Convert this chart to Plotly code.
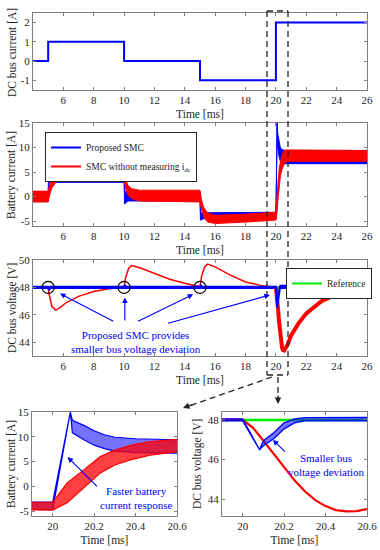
import plotly.graph_objects as go

# ---------------- data ----------------
# DC bus current step profile [A]
idc_t = [4, 5, 10, 15, 20, 26]
idc_a = [0, 1, 0, -1, 2, 2]

# Battery current, proposed SMC: ripple band envelopes [A]
bat_blue_t = [4.0, 5.0, 5.03, 5.25, 10.0, 10.03, 10.25, 15.0, 15.03, 15.25, 20.0,
              20.085, 20.095, 20.15, 20.2, 20.25, 20.3, 20.4, 20.6, 26.0]
bat_blue_hi = [1.0, 1.0, 6.0, 5.4, 5.3, 1.0, 1.0, 1.0, -3.3, -3.3, -3.2,
               15.0, 13.3, 12.3, 11.2, 10.4, 9.9, 9.6, 9.4, 9.4]
bat_blue_lo = [-1.0, -1.0, 2.9, 2.9, 2.9, -1.5, -0.9, -0.9, -4.8, -4.5, -4.7,
               15.0, 10.8, 9.4, 8.3, 7.6, 7.1, 6.8, 6.7, 6.7]

# Battery current, SMC without measuring idc: ripple band envelopes [A]
bat_red_t = [4.0, 5.0, 5.1, 5.25, 5.5, 6.0, 8.0, 10.0, 10.1, 10.25, 10.5, 11.0, 15.0,
             15.1, 15.25, 15.5, 16.0, 18.0, 20.0, 20.07, 20.15, 20.23, 20.3, 20.39,
             20.47, 20.55, 20.6, 21.0, 26.0]
bat_red_hi = [1.1, 1.1, 2.5, 3.8, 4.8, 5.3, 5.3, 5.1, 3.6, 2.3, 1.6, 1.3, 1.3,
              -0.7, -2.3, -3.3, -3.8, -3.6, -3.2, 0.7, 3.3, 6.0, 7.3, 8.4,
              9.0, 9.4, 9.5, 9.5, 9.4]
bat_red_lo = [-1.1, -1.1, 0.4, 1.8, 2.9, 3.5, 3.6, 3.4, 1.6, 0.3, -0.4, -0.9, -1.1,
              -2.6, -4.2, -5.2, -5.5, -5.2, -4.8, -3.3, -0.2, 2.7, 4.3, 5.5,
              6.3, 6.7, 7.0, 7.2, 7.2]

# DC bus voltage [V]
vref_t = [4, 26]
vref_v = [48, 48]

red_v_t = [4, 5, 5.1, 5.25, 5.5, 5.8, 6.2, 7, 8, 9, 10, 10.1, 10.3, 10.5, 11, 12, 13, 14,
           15, 15.1, 15.3, 15.5, 16, 17, 18, 19, 20, 20.05, 20.1, 20.15, 20.2, 20.25,
           20.3, 20.35, 20.4, 20.45, 20.5, 20.55, 20.6, 20.8, 21, 21.5, 22, 23, 24, 25, 26]
red_v = [48, 48, 47.3, 46.6, 46.35, 46.55, 46.9, 47.35, 47.7, 47.9, 48.0, 48.7, 49.4, 49.6,
         49.45, 49.0, 48.6, 48.3, 48.05, 48.8, 49.5, 49.7, 49.5, 48.9, 48.4, 48.15, 48.0,
         47.6, 46.95, 46.3, 45.6, 44.95, 44.4, 43.95, 43.65, 43.45, 43.38, 43.4, 43.5,
         43.9, 44.5, 45.4, 46.1, 47.0, 47.5, 47.75, 47.85]

blue_v_t = [4, 5, 5.05, 5.15, 10, 10.05, 10.15, 15, 15.05, 15.15, 20, 20.081, 20.1,
            20.15, 20.2, 20.25, 20.3, 26]
blue_v_hi = [48.05, 48.05, 47.95, 48.05, 48.05, 48.15, 48.05, 48.05, 48.15, 48.05, 48.05,
             46.5, 46.95, 47.35, 47.85, 48.05, 48.12, 48.15]
blue_v_lo = [47.95, 47.95, 47.8, 47.95, 47.95, 48.0, 47.95, 47.95, 48.0, 47.95, 47.95,
             46.5, 46.7, 47.05, 47.55, 47.85, 47.95, 47.98]

circ_t = [5, 10, 15]
circ_v = [48, 48, 48]

main_xticks = [6, 8, 10, 12, 14, 16, 18, 20, 22, 24, 26]
zoom_xticks = [20, 20.2, 20.4, 20.6]
zoom_xtext = ["20", "20.2", "20.4", "20.6"]

# ---------------- styling ----------------
W, H = 380, 550
FONT = "Liberation Serif"
BLUE, RED, GREEN = "#0000ff", "#ff0000", "#00ee00"
AXC, TXT = "#808080", "#262626"


def X(px):
    return px / W


def Y(py):
    return 1 - py / H


def band(t, hi, lo):
    return list(t) + list(t)[::-1], list(hi) + list(lo)[::-1]


def axstyle(title, domain, rng, tickvals, ticktext=None, standoff=4, anchor=None):
    d = dict(showline=True, linecolor=AXC, linewidth=1, mirror="ticks", ticks="inside",
             ticklen=3, tickcolor=AXC, showgrid=False, zeroline=False,
             tickfont=dict(family=FONT, size=11, color=TXT),
             title=dict(text=title, font=dict(family=FONT, size=11.5, color=TXT), standoff=standoff),
             domain=domain, range=rng, tickvals=tickvals, automargin=False, anchor=anchor)
    if ticktext is not None:
        d["ticktext"] = ticktext
    return d


fig = go.Figure()

# Panel 1: DC bus current
fig.add_trace(go.Scatter(x=idc_t, y=idc_a, mode="lines", line=dict(color=BLUE, width=2, shape="hv"),
                         showlegend=False, xaxis="x", yaxis="y"))

# Panel 2: battery current
bx, by = band(bat_blue_t, bat_blue_hi, bat_blue_lo)
rx, ry = band(bat_red_t, bat_red_hi, bat_red_lo)
fig.add_trace(go.Scatter(x=bx, y=by, mode="lines", fill="toself", fillcolor=BLUE,
                         line=dict(color=BLUE, width=1), showlegend=False, xaxis="x2", yaxis="y2"))
fig.add_trace(go.Scatter(x=rx, y=ry, mode="lines", fill="toself", fillcolor=RED,
                         line=dict(color=RED, width=1), showlegend=False, xaxis="x2", yaxis="y2"))
fig.add_trace(go.Scatter(x=[None], y=[None], mode="lines", line=dict(color=BLUE, width=2),
                         name="Proposed SMC", legend="legend", xaxis="x2", yaxis="y2"))
fig.add_trace(go.Scatter(x=[None], y=[None], mode="lines", line=dict(color=RED, width=2),
                         name="SMC without measuring i<sub>dc</sub>", legend="legend", xaxis="x2", yaxis="y2"))

# Panel 3: DC bus voltage
fig.add_trace(go.Scatter(x=vref_t, y=vref_v, mode="lines", line=dict(color=GREEN, width=2),
                         name="Reference", legend="legend2", xaxis="x3", yaxis="y3"))
fig.add_trace(go.Scatter(x=red_v_t, y=red_v, mode="lines", line=dict(color=RED, width=1.5),
                         showlegend=False, xaxis="x3", yaxis="y3"))
k20 = red_v_t.index(20)
fig.add_trace(go.Scatter(x=red_v_t[k20:], y=red_v[k20:], mode="lines", line=dict(color=RED, width=4),
                         showlegend=False, xaxis="x3", yaxis="y3"))
vx, vy = band(blue_v_t, blue_v_hi, blue_v_lo)
fig.add_trace(go.Scatter(x=vx, y=vy, mode="lines", fill="toself", fillcolor=BLUE,
                         line=dict(color=BLUE, width=2), showlegend=False, xaxis="x3", yaxis="y3"))
fig.add_trace(go.Scatter(x=circ_t, y=circ_v, mode="markers",
                         marker=dict(symbol="circle-open", size=12, color="black", line=dict(width=1.2)),
                         showlegend=False, xaxis="x3", yaxis="y3"))

# Panel 4: zoomed battery current
fig.add_trace(go.Scatter(x=bx, y=by, mode="lines", fill="toself", fillcolor="rgba(0,0,255,0.55)",
                         line=dict(color=BLUE, width=1.2), showlegend=False, xaxis="x4", yaxis="y4"))
fig.add_trace(go.Scatter(x=rx, y=ry, mode="lines", fill="toself", fillcolor="rgba(255,0,0,0.75)",
                         line=dict(color=RED, width=1.2), showlegend=False, xaxis="x4", yaxis="y4"))

# Panel 5: zoomed DC bus voltage
fig.add_trace(go.Scatter(x=vref_t, y=vref_v, mode="lines", line=dict(color=GREEN, width=2.5),
                         showlegend=False, xaxis="x5", yaxis="y5"))
fig.add_trace(go.Scatter(x=red_v_t, y=red_v, mode="lines", line=dict(color=RED, width=2.2),
                         showlegend=False, xaxis="x5", yaxis="y5"))
fig.add_trace(go.Scatter(x=vx, y=vy, mode="lines", fill="toself", fillcolor="rgba(0,0,255,0.55)",
                         line=dict(color=BLUE, width=1.3), showlegend=False, xaxis="x5", yaxis="y5"))

# ---------------- layout ----------------
xd_main = [X(33), X(367)]
layout = dict(
    width=W, height=H, margin=dict(l=0, r=0, t=0, b=0),
    paper_bgcolor="white", plot_bgcolor="white",
    font=dict(family=FONT, color=TXT),
    xaxis=axstyle("Time [ms]", xd_main, [4, 26], main_xticks, anchor="y"),
    yaxis=axstyle(None, [Y(90), Y(13)], [-1.5, 2.5], [-1, 0, 1, 2],
                  ["-1", "0", "1", "2"], anchor="x"),
    xaxis2=axstyle("Time [ms]", xd_main, [4, 26], main_xticks, anchor="y2"),
    yaxis2=axstyle(None, [Y(226), Y(123)], [-6, 15], [-5, 0, 5, 10, 15],
                   ["-5", "0", "5", "10", "15"], anchor="x2"),
    xaxis3=axstyle("Time [ms]", xd_main, [4, 26], main_xticks, anchor="y3"),
    yaxis3=axstyle(None, [Y(356), Y(260)], [43, 50], [44, 46, 48, 50], anchor="x3"),
    xaxis4=axstyle("Time [ms]", [X(32), X(177)], [19.9, 20.6], zoom_xticks, zoom_xtext, anchor="y4"),
    yaxis4=axstyle(None, [Y(516), Y(412)], [-6, 15], [-5, 0, 5, 10, 15],
                   ["-5", "0", "5", "10", "15"], anchor="x4"),
    xaxis5=axstyle("Time [ms]", [X(222), X(367)], [19.9, 20.6], zoom_xticks, zoom_xtext, anchor="y5"),
    yaxis5=axstyle(None, [Y(516), Y(412)], [43.15, 48.4], [44, 46, 48], anchor="x5"),
    legend=dict(x=X(45), y=Y(132), xanchor="left", yanchor="top", bgcolor="white",
                bordercolor=TXT, borderwidth=1, font=dict(family=FONT, size=9.5, color=TXT),
                tracegroupgap=0),
    legend2=dict(x=X(286), y=Y(268), xanchor="left", yanchor="top", bgcolor="white",
                 bordercolor=TXT, borderwidth=1, font=dict(family=FONT, size=9.5, color=TXT)),
    showlegend=True,
)
fig.update_layout(**layout)

# y-axis titles
tfont = dict(family=FONT, size=11.5, color=TXT)
for txt, px, py in [("DC bus current [A]", 12, 53), ("Battery current [A]", 12, 175),
                    ("DC bus voltage [V]", 12, 308), ("Battery current [A]", 11, 464),
                    ("DC bus voltage [V]", 197, 464)]:
    fig.add_annotation(xref="paper", yref="paper", x=X(px), y=Y(py), text=txt, textangle=-90,
                       showarrow=False, font=tfont, xanchor="center", yanchor="middle")

# dashed zoom-indicator box and connectors (paper coordinates)
dash = dict(color="#222222", width=1.3, dash="6px,4px")
segs = [((267, 11), (267, 375)), ((288, 11), (288, 375)), ((267, 11), (288, 11)),
        ((267, 375), (288, 375)), ((272, 377), (186, 407)), ((278, 377), (278, 401))]
for (x0, y0), (x1, y1) in segs:
    fig.add_shape(type="line", xref="paper", yref="paper", x0=X(x0), y0=Y(y0), x1=X(x1), y1=Y(y1),
                  line=dash)
fig.add_annotation(xref="paper", yref="paper", x=X(183), y=Y(408), ax=11, ay=-4, text="",
                   showarrow=True, arrowhead=2, arrowsize=1, arrowwidth=1.3, arrowcolor="#222222")
fig.add_annotation(xref="paper", yref="paper", x=X(278), y=Y(404), ax=0, ay=-10, text="",
                   showarrow=True, arrowhead=2, arrowsize=1, arrowwidth=1.3, arrowcolor="#222222")

# blue annotations
afont = dict(family=FONT, size=11, color=BLUE)
for hx, hy, tx, ty in [(5.78, 47.55, 9.39, 45.48), (10.05, 47.26, 10.05, 45.48),
                       (14.55, 47.5, 10.82, 45.48), (19.6, 47.45, 12.8, 45.36)]:
    fig.add_annotation(xref="x3", yref="y3", axref="x3", ayref="y3", x=hx, y=hy, ax=tx, ay=ty,
                       text="", showarrow=True, arrowhead=2, arrowsize=1, arrowwidth=1.1,
                       arrowcolor=BLUE)
fig.add_annotation(xref="x3", yref="y3", x=10.8, y=44.0, showarrow=False, font=afont,
                   text="Proposed SMC provides<br>smaller bus voltage deviation")

fig.add_annotation(xref="x4", yref="y4", axref="x4", ayref="y4", x=20.072, y=5.9, ax=20.221, ay=-0.3,
                   text="", showarrow=True, arrowhead=2, arrowsize=1, arrowwidth=1.1, arrowcolor=BLUE)
fig.add_annotation(xref="x4", yref="y4", x=20.403, y=-2.3, showarrow=False, font=afont,
                   text="Faster battery<br>current response")

fig.add_annotation(xref="x5", yref="y5", axref="x5", ayref="y5", x=20.146, y=46.99, ax=20.211, ay=46.32,
                   text="", showarrow=True, arrowhead=2, arrowsize=1, arrowwidth=1.1, arrowcolor=BLUE)
fig.add_annotation(xref="x5", yref="y5", x=20.406, y=45.72, showarrow=False, font=afont,
                   text="Smaller bus<br>voltage deviation")

fig.write_html("out.html", config={"displayModeBar": False},
               post_script="document.body.style.margin='0';")
